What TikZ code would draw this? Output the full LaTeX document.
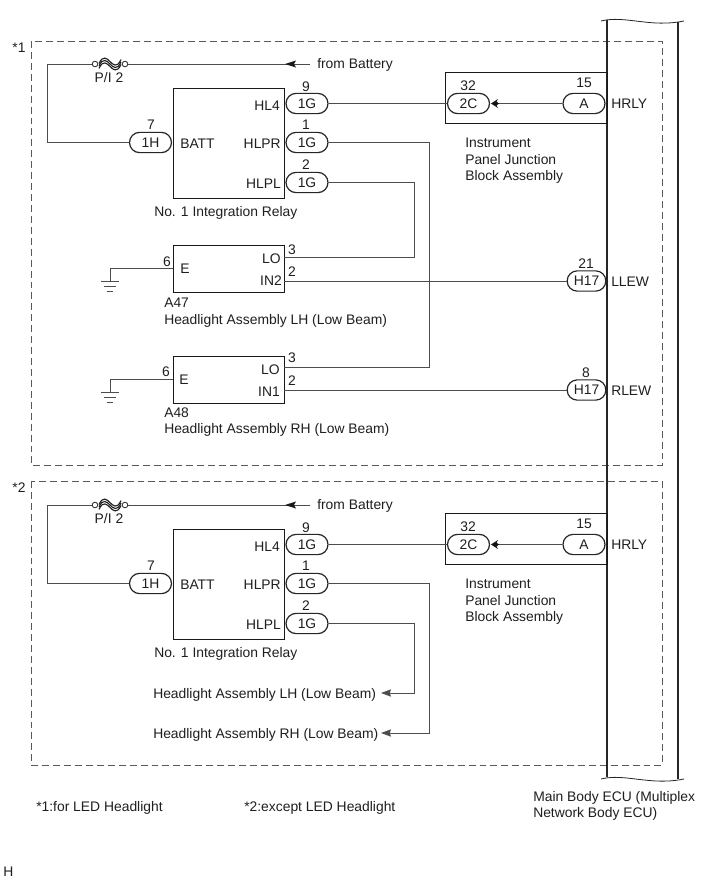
\documentclass[tikz,border=0pt]{standalone}
\usepackage{fontspec}
\setmainfont{Liberation Sans}
\usetikzlibrary{shapes.misc,arrows.meta}
\tikzset{
 x=0.75pt,y=-0.75pt,
 lbl/.style={inner sep=0pt,text height=7.4pt,text depth=0pt,font=\fontsize{10.4pt}{12pt}\selectfont,text=black!88},
 lleft/.style={lbl,anchor=west},
 lright/.style={lbl,anchor=east},
 pill/.style={rounded rectangle,draw=black!85,line width=0.9pt,minimum width=31.5pt,minimum height=15.2pt,inner sep=0pt,text height=7.4pt,text depth=0pt,font=\fontsize{10.4pt}{12pt}\selectfont,text=black!88},
 pillw/.style={pill,minimum width=29pt},
 box/.style={draw=black!90,line width=1pt,inner sep=0pt,anchor=north west},
 wire/.style={draw=black!70,line width=0.7pt},
 dashbox/.style={draw=black!65,line width=0.7pt,dash pattern=on 5.2pt off 3pt},
 ecu/.style={draw=black!85,line width=1.2pt},
 tip/.style={-{Stealth[length=7.5pt,width=5.4pt,inset=1pt]}},
}
\newcommand{\relayblock}[2]{%
 \coordinate (#1fl) at (47,64+#2);
 \coordinate (#1fs) at (310,64+#2);
 \node[lbl] (#1pi) at (109,78+#2) {P/I 2};
 \node[lleft] (#1fb) at (317,64+#2) {from Battery};
 \node[box,minimum width=83.25pt,minimum height=82.5pt] (#1relay) at (173,88+#2) {};
 \node[pill] (#1hl4) at (307,103.5+#2) {1G};
 \node[pill] (#1hlpr) at (307,142.5+#2) {1G};
 \node[pill] (#1hlpl) at (307,182.5+#2) {1G};
 \node[pill] (#1bt) at (150.5,142.5+#2) {1H};
 \node[lbl] (#1n9) at (306,87+#2) {9};
 \node[lbl] (#1n1) at (306,125+#2) {1};
 \node[lbl] (#1n2) at (306,165+#2) {2};
 \node[lbl] (#1n7) at (151,125+#2) {7};
 \node[lright] (#1t1) at (280,106+#2) {HL4};
 \node[lright] (#1t2) at (281,144+#2) {HLPR};
 \node[lright] (#1t3) at (281,184+#2) {HLPL};
 \node[lleft] (#1t4) at (180,144+#2) {BATT};
 \node[lbl,anchor=west] (#1t5) at (154,211.5+#2) {No. 1 Integration Relay};
 \node[box,minimum width=121.5pt,minimum height=38.2pt] (#1jb) at (445,72+#2) {};
 \node[pill] (#12c) at (468.5,103.5+#2) {2C};
 \node[pill] (#1a) at (584,103.5+#2) {A};
 \node[lbl] (#1n32) at (468,86+#2) {32};
 \node[lbl] (#1n15) at (584,83+#2) {15};
 \node[lleft] (#1hrly) at (611,103.5+#2) {HRLY};
 \node[lleft] (#1i1) at (465,143+#2) {Instrument};
 \node[lleft] (#1i2) at (465,159.5+#2) {Panel Junction};
 \node[lleft] (#1i3) at (465,176+#2) {Block Assembly};
 \draw[wire] (#1fs) -- (#1fl) |- (#1bt.west);
 \draw[wire] (#1hl4.east) -- (#12c.west);
 \draw[wire] (#1a.west) -- (497,103.5+#2);
 \fill[black!92] (491,103.5+#2) -- (498,99+#2) -- (496.5,101.5+#2) -- (499,103.5+#2) -- (496.5,105.5+#2) -- (498,108+#2) -- cycle;
 \fill[black!90] (285,64+#2) -- (296,60.5+#2) -- (294,64+#2) -- (296,67.5+#2) -- cycle;
 % fuse
 \fill[white] (96,57+#2) rectangle (124,71+#2);
 \foreach \o in {-2.4,0,2.4}{
  \draw[black!88,line width=0.85pt] (99,66+#2+\o) .. controls (103,57+#2+\o) and (107,61+#2+\o) .. (110,64+#2+\o) .. controls (113,67+#2+\o) and (117,71+#2+\o) .. (121,62+#2+\o);
 }
 \draw[black!85,line width=0.6pt,fill=white] (95,64+#2) circle[radius=2.8] (125,64+#2) circle[radius=2.8];
}
\begin{document}
\begin{tikzpicture}
\useasboundingbox (0,0) rectangle (713,882);
\fill[white] (0,0) rectangle (713,882);
% dashed frames
\draw[dashbox] (31,41) rectangle (662,465);
\draw[dashbox] (31,481) rectangle (662,765);
\node[lbl] (s1) at (19,48) {*1};
\node[lbl] (s2) at (19,488) {*2};
% ECU
\draw[ecu] (607,20) -- (607,777);
\draw[ecu,line width=1.1pt] (678,22) -- (678,779);
\draw[black!85,line width=0.6pt] (601,21) .. controls (625,15) and (650,28) .. (684,21);
\draw[black!85,line width=0.6pt] (601,779) .. controls (625,773) and (650,786) .. (684,779);
\relayblock{u}{0}
\relayblock{d}{441}
% upper block: headlights
\node[box,minimum width=83.25pt,minimum height=35.2pt] (a47) at (173,245) {};
\node[box,minimum width=83.25pt,minimum height=35.2pt] (a48) at (173,356) {};
\node[lleft] (e1) at (180,269) {E};
\node[lleft] (e2) at (179,380) {E};
\node[lbl] (n61) at (167,262) {6};
\node[lbl] (n62) at (166,372) {6};
\node[lright] (lo1) at (281,259) {LO};
\node[lright] (lo2) at (280,370) {LO};
\node[lright] (in2) at (282,281) {IN2};
\node[lright] (in1) at (280,392) {IN1};
\node[lbl] (n31) at (292,250) {3};
\node[lbl] (n21) at (292,272) {2};
\node[lbl] (n32) at (292,358) {3};
\node[lbl] (n22) at (292,381) {2};
\node[lleft] (a47t) at (164,303) {A47};
\node[lleft] (a48t) at (164,413) {A48};
\node[lleft] (h1) at (164,319.5) {Headlight Assembly LH (Low Beam)};
\node[lleft] (h2) at (164,429) {Headlight Assembly RH (Low Beam)};
\node[pillw] (h171) at (586.5,281) {H17};
\node[pillw] (h172) at (586.5,390) {H17};
\node[lbl] (n211) at (586,264) {21};
\node[lbl] (n8) at (586,373) {8};
\node[lleft] (ll) at (611,281.5) {LLEW};
\node[lleft] (rl) at (611,391) {RLEW};
\coordinate (g1) at (110,281);
\coordinate (g2) at (110,392);
\draw[wire] (a47.west|-0,268) -| (g1);
\draw[wire] (a48.west|-0,379) -| (g2);
\foreach \g in {g1,g2}{
 \draw[black!70,line width=0.7pt] ([xshift=-6.75pt]\g) -- ([xshift=6.75pt]\g);
 \draw[black!70,line width=0.7pt] ([xshift=-4.5pt,yshift=-3.75pt]\g) -- ([xshift=4.5pt,yshift=-3.75pt]\g);
 \draw[black!70,line width=0.7pt] ([xshift=-2.3pt,yshift=-8pt]\g) -- ([xshift=2.3pt,yshift=-8pt]\g);
}
\draw[wire] (uhlpl.east) -| (414,257) -- (284,257);
\draw[wire] (uhlpr.east) -| (429,367) -- (284,367);
\draw[wire] (284,281) -- (h171.west);
\draw[wire] (284,390) -- (h172.west);
% lower block: headlight references
\node[lleft] (h3) at (153,693.5) {Headlight Assembly LH (Low Beam)};
\node[lleft] (h4) at (153,733.5) {Headlight Assembly RH (Low Beam)};
\draw[wire,tip] (dhlpl.east) -| (414,693) -- (381,693);
\draw[wire,tip] (dhlpr.east) -| (429.5,733) -- (381,733);
% notes
\node[lleft] (f1) at (36,806.5) {*1:for LED Headlight};
\node[lleft] (f2) at (244,806.5) {*2:except LED Headlight};
\node[lleft] (m1) at (533,797) {Main Body ECU (Multiplex};
\node[lleft] (m2) at (533,813) {Network Body ECU)};
\node[lleft] (hh) at (3,872) {H};
\end{tikzpicture}
\end{document}
